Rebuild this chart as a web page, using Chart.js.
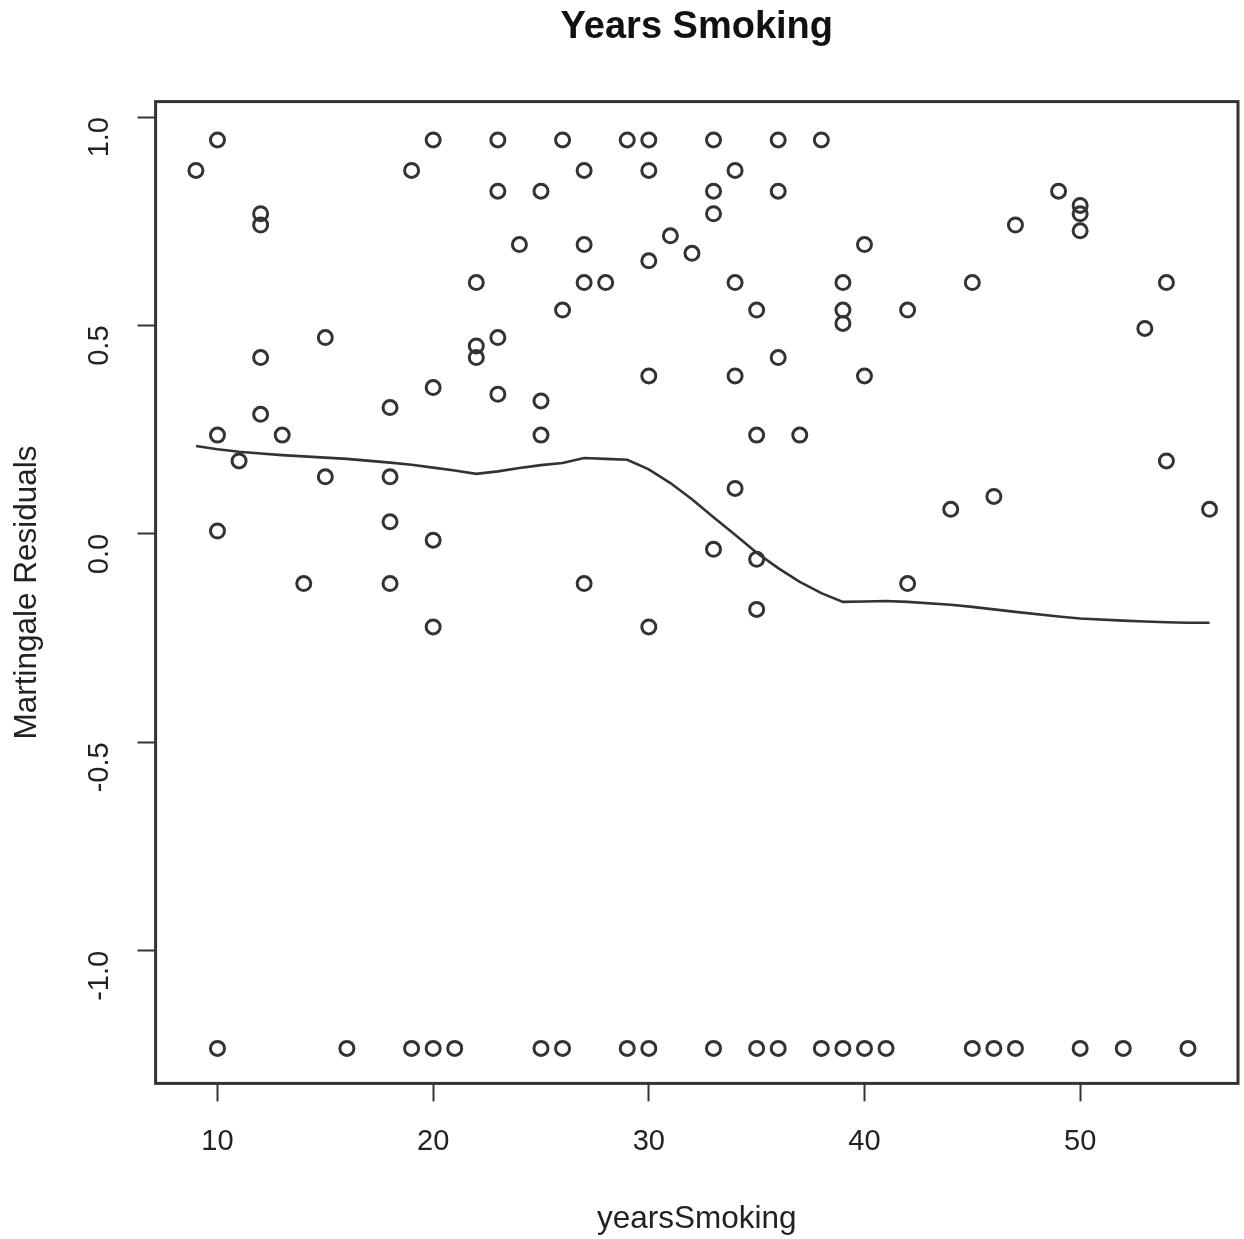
<!DOCTYPE html>
<html>
<head>
  <title>Years Smoking</title>
  <script src="https://cdn.jsdelivr.net/npm/chart.js"></script>
  <style>
    body { margin: 0; background: #fff; }
    .wrap { width: 1244px; height: 1239px; }
  </style>
</head>
<body>
  <div class="wrap">
    <canvas id="residChart"></canvas>
  </div>

  <script>
    // martingale residuals against years smoking
    const residX = [
      10, 20, 23, 26, 29, 30, 33, 36, 38,
      9, 19, 27, 30, 34,
      23, 25, 33, 36, 49,
      50, 12, 33, 50, 12, 47, 50,
      31, 24, 27, 40, 32, 30,
      22, 27, 28, 34, 39, 45, 54,
      26, 35, 39, 42, 39, 53,
      15, 23, 22, 12, 22, 36,
      30, 34, 40, 20, 23, 25, 18, 12,
      10, 13, 25, 35, 37,
      11, 54, 15, 18, 34, 46, 44, 56,
      18, 10, 20, 33, 35,
      14, 18, 27, 42, 35, 20, 30,
      10, 16, 19, 20, 21, 25, 26, 29, 30, 33, 35, 36, 38, 39, 40, 41, 45, 46, 47, 50, 52, 55
    ];
    const residY = [
      0.945, 0.945, 0.945, 0.945, 0.945, 0.945, 0.945, 0.945, 0.945,
      0.872, 0.872, 0.872, 0.872, 0.872,
      0.822, 0.822, 0.822, 0.822, 0.822,
      0.788, 0.768, 0.768, 0.768, 0.741, 0.741, 0.727,
      0.715, 0.694, 0.694, 0.694, 0.673, 0.655,
      0.603, 0.603, 0.603, 0.603, 0.603, 0.603, 0.603,
      0.537, 0.537, 0.537, 0.537, 0.505, 0.493,
      0.471, 0.471, 0.451, 0.423, 0.423, 0.423,
      0.379, 0.379, 0.379, 0.351, 0.335, 0.319, 0.303, 0.287,
      0.237, 0.237, 0.237, 0.237, 0.237,
      0.175, 0.175, 0.137, 0.137, 0.109, 0.090, 0.059, 0.059,
      0.029, 0.007, -0.015, -0.037, -0.061,
      -0.119, -0.119, -0.119, -0.119, -0.181, -0.223, -0.223,
      -1.234, -1.234, -1.234, -1.234, -1.234, -1.234, -1.234, -1.234, -1.234, -1.234, -1.234,
      -1.234, -1.234, -1.234, -1.234, -1.234, -1.234, -1.234, -1.234, -1.234, -1.234, -1.234
    ];

    // lowess smooth
    const smoothX = [9, 10, 11, 12, 13, 14, 15, 16, 18, 19, 20, 21, 22, 23, 24, 25, 26, 27, 28, 29, 30,
                     31, 32, 33, 34, 35, 36, 37, 38, 39, 40, 41, 42, 44, 45, 46, 47, 49, 50, 52, 53, 54, 55, 56];
    const smoothY = [0.211, 0.203, 0.197, 0.193, 0.189, 0.186, 0.183, 0.180, 0.171, 0.166, 0.159, 0.152,
                     0.144, 0.150, 0.158, 0.165, 0.170, 0.182, 0.180, 0.178, 0.155,
                     0.122, 0.083, 0.040, -0.002, -0.045, -0.082, -0.115, -0.142, -0.163, -0.162, -0.161,
                     -0.163, -0.170, -0.175, -0.181, -0.187, -0.198, -0.203, -0.208, -0.210, -0.212, -0.213, -0.213];

    const xTicks = [10, 20, 30, 40, 50];
    const yTicks = [-1.0, -0.5, 0.0, 0.5, 1.0];

    const ink = '#333';
    const fontFamily = '"Liberation Sans", Arial, sans-serif';

    // frame around the plotting region
    const boxPlugin = {
      id: 'box',
      afterDraw(chart) {
        const a = chart.chartArea;
        const ctx = chart.ctx;
        ctx.save();
        ctx.strokeStyle = ink;
        ctx.lineWidth = 3;
        ctx.strokeRect(a.left, a.top, a.right - a.left, a.bottom - a.top);
        ctx.restore();
      }
    };

    const ctx = document.getElementById('residChart').getContext('2d');
    new Chart(ctx, {
      type: 'scatter',
      data: {
        datasets: [
          {
            label: 'residuals',
            data: residX.map((x, i) => ({ x: x, y: residY[i] })),
            pointStyle: 'circle',
            pointRadius: 7,
            pointBorderWidth: 3,
            pointBorderColor: ink,
            pointBackgroundColor: 'rgba(0,0,0,0)',
            showLine: false
          },
          {
            label: 'lowess',
            data: smoothX.map((x, i) => ({ x: x, y: smoothY[i] })),
            showLine: true,
            borderColor: ink,
            borderWidth: 2.6,
            pointRadius: 0,
            tension: 0
          }
        ]
      },
      options: {
        responsive: true,
        maintainAspectRatio: false,
        animation: false,
        events: [],
        layout: { autoPadding: false, padding: { left: 4, right: 6, top: 0, bottom: 0 } },
        plugins: {
          legend: { display: false },
          tooltip: { enabled: false },
          title: {
            display: true,
            text: 'Years Smoking',
            fullSize: false,
            color: '#111',
            font: { family: fontFamily, size: 38, weight: 'bold' },
            padding: { top: 5, bottom: 51 }
          }
        },
        scales: {
          x: {
            type: 'linear',
            min: 7.13,
            max: 57.32,
            afterBuildTicks: s => { s.ticks = xTicks.map(v => ({ value: v })); },
            border: { display: false },
            grid: { drawOnChartArea: false, drawTicks: true, tickLength: 18, tickWidth: 2, tickColor: ink },
            ticks: { color: '#222', padding: 23, font: { family: fontFamily, size: 29 }, maxRotation: 0 },
            title: {
              display: true,
              text: 'yearsSmoking',
              color: '#222',
              font: { family: fontFamily, size: 31.5 },
              padding: { top: 18, bottom: 1 }
            }
          },
          y: {
            type: 'linear',
            min: -1.318,
            max: 1.037,
            afterBuildTicks: s => { s.ticks = yTicks.map(v => ({ value: v })); },
            border: { display: false },
            grid: { drawOnChartArea: false, drawTicks: true, tickLength: 18, tickWidth: 2, tickColor: ink },
            ticks: {
              color: '#222',
              padding: 38,
              minRotation: 90,
              maxRotation: 90,
              font: { family: fontFamily, size: 29 },
              callback: v => v.toFixed(1)
            },
            title: {
              display: true,
              text: 'Martingale Residuals',
              color: '#222',
              font: { family: fontFamily, size: 31.5 },
              padding: { top: 4, bottom: -19 }
            }
          }
        }
      },
      plugins: [boxPlugin]
    });
  </script>
</body>
</html>
